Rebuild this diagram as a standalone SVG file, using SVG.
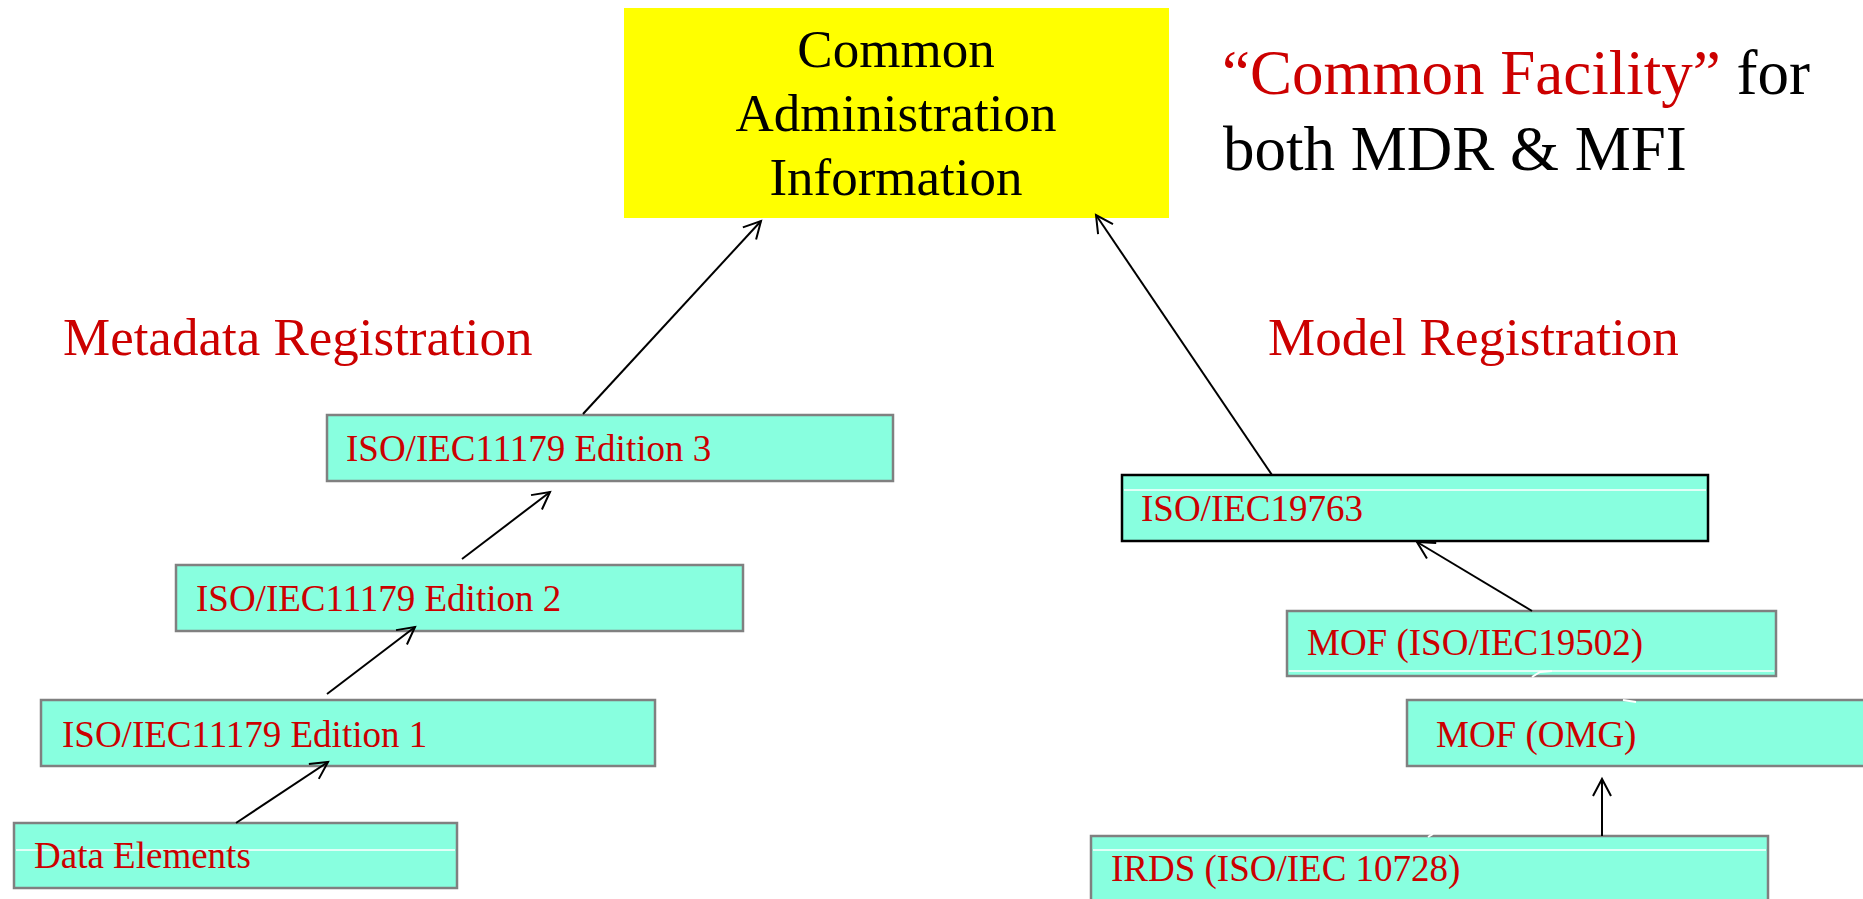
<svg xmlns="http://www.w3.org/2000/svg" width="1863" height="899" viewBox="0 0 1863 899">
<defs>
<style>
text{font-family:"Liberation Serif","Times New Roman",serif}
.box{fill:#88FFDF;stroke:#808080;stroke-width:2.5}
.boxb{fill:#88FFDF;stroke:#000;stroke-width:2.5}
.lbl{font-size:37px;fill:#CC0000}
.head{font-size:53px;fill:#CC0000}
.big{font-size:53px;fill:#000;text-anchor:middle}
.hl{stroke:#fff;stroke-width:1.5;fill:none}
.conn{stroke:#000;stroke-width:2;fill:none;marker-end:url(#arr)}
</style>
<marker id="arr" markerUnits="userSpaceOnUse" viewBox="-20 -12 24 24" refX="0" refY="0" markerWidth="24" markerHeight="24" orient="auto" overflow="visible">
<path d="M-17,-9 L0,0 L-17,9" fill="none" stroke="#000" stroke-width="2"/>
</marker>
</defs>
<rect width="1863" height="899" fill="#fff"/>

<g id="common-admin">
<rect x="624" y="8" width="545" height="210" fill="#FFFF00"/>
<text class="big" x="896" y="67">Common</text>
<text class="big" x="896" y="131">Administration</text>
<text class="big" x="896" y="195">Information</text>
</g>

<g id="title-note">
<text x="1222" y="94" font-size="63"><tspan fill="#CC0000">“Common Facility”</tspan><tspan fill="#000"> for</tspan></text>
<text x="1223" y="170" font-size="63" fill="#000">both MDR &amp; MFI</text>
</g>

<g id="metadata-registration"><text class="head" x="63" y="355">Metadata Registration</text></g>
<g id="model-registration"><text class="head" x="1268" y="355">Model Registration</text></g>

<g id="ed3">
<rect class="box" x="327" y="415" width="566" height="66"/>
<text class="lbl" x="346" y="461">ISO/IEC11179 Edition 3</text>
</g>
<g id="ed2">
<rect class="box" x="176" y="565" width="567" height="66"/>
<text class="lbl" x="196" y="611">ISO/IEC11179 Edition 2</text>
</g>
<g id="ed1">
<rect class="box" x="41" y="700" width="614" height="66"/>
<text class="lbl" x="62" y="747">ISO/IEC11179 Edition 1</text>
</g>
<g id="data-elements">
<rect class="box" x="14" y="823" width="443" height="65"/>
<line class="hl" x1="16" y1="850" x2="455" y2="850"/>
<text class="lbl" x="34" y="868">Data Elements</text>
</g>

<g id="iso19763">
<rect class="boxb" x="1122" y="475" width="586" height="66"/>
<line class="hl" x1="1124" y1="490" x2="1706" y2="490"/>
<text class="lbl" x="1141" y="521">ISO/IEC19763</text>
</g>
<g id="mof19502">
<rect class="box" x="1287" y="611" width="489" height="65"/>
<line class="hl" x1="1289" y1="671" x2="1774" y2="671"/>
<text class="lbl" x="1307" y="655">MOF (ISO/IEC19502)</text>
</g>
<g id="mof-omg">
<rect class="box" x="1407" y="700" width="500" height="66"/>
<text class="lbl" x="1436" y="747">MOF (OMG)</text>
</g>
<g id="irds">
<rect class="box" x="1091" y="836" width="677" height="100"/>
<line class="hl" x1="1093" y1="850" x2="1766" y2="850"/>
<text class="lbl" x="1111" y="881">IRDS (ISO/IEC 10728)</text>
</g>

<g id="connectors">
<line class="conn" x1="583" y1="414" x2="761" y2="221"/>
<line class="conn" x1="1272" y1="475" x2="1096" y2="215"/>
<line class="conn" x1="236" y1="823" x2="328" y2="762"/>
<line class="conn" x1="327" y1="694" x2="415" y2="627"/>
<line class="conn" x1="462" y1="559" x2="550" y2="492"/>
<line class="conn" x1="1532" y1="611" x2="1417" y2="542"/>
<line class="conn" x1="1602" y1="836" x2="1602" y2="779"/>
</g>

<g id="white-marks" stroke="#fff" stroke-width="2" fill="none">
<path d="M1532,677 L1540,672 L1552,671"/>
<path d="M1623,700 L1636,702"/>
<path d="M1428,837 L1433,834"/>
</g>
</svg>
